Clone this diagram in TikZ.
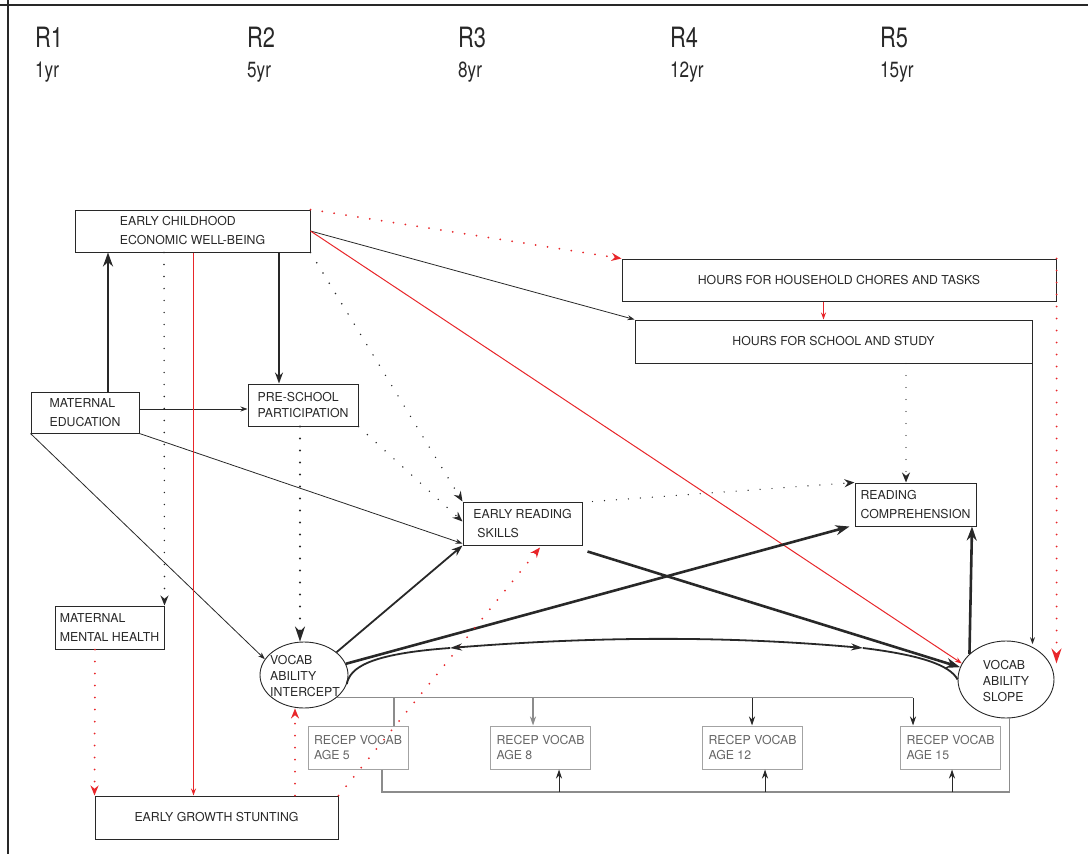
\documentclass[tikz,border=0pt]{standalone}
\usepackage{fontspec}
\setmainfont{TeX Gyre Heros}
\newfontfamily\hdr[FakeStretch=0.78]{TeX Gyre Heros}
\usetikzlibrary{arrows.meta,shapes.geometric}
\definecolor{rd}{RGB}{232,38,42}
\definecolor{ink}{RGB}{40,40,40}
\definecolor{gln}{RGB}{140,140,140}
\begin{document}
\begin{tikzpicture}[x=1pt,y=-1pt,
  box/.style={draw=ink, line width=1.0pt, rectangle, align=left, inner sep=0pt, text=ink,
    font=\fontsize{12.3}{19}\selectfont},
  rbox/.style={draw=gln!80, line width=1.0pt, rectangle, align=left, inner sep=0pt, text=black!60,
    font=\fontsize{12.3}{15.5}\selectfont, minimum width=100pt, minimum height=43pt},
  ell/.style={ellipse, draw=ink, line width=0.9pt, inner sep=0pt},
  etext/.style={align=left, text=ink, inner sep=0pt, font=\fontsize{12.3}{16}\selectfont},
  hd/.style={anchor=base west, text=ink, inner sep=0pt, font=\hdr\fontsize{28}{28}\selectfont},
  yr/.style={anchor=base west, text=ink, inner sep=0pt, font=\hdr\fontsize{22}{22}\selectfont},
  thinarr/.style={draw=ink, line width=0.8pt, -{Stealth[length=7pt,width=5pt]}},
  medarr/.style={draw=ink, line width=1.4pt, -{Stealth[length=11pt,width=8pt]}},
  thickarr/.style={draw=ink, line width=2.6pt, -{Stealth[length=14pt,width=10pt]}},
  redarr/.style={draw=rd, line width=1.0pt, -{Stealth[length=7pt,width=5pt]}},
  bdot/.style={draw=ink, line width=1.6pt, line cap=round, dash pattern=on 0pt off 12pt,
    -{Stealth[length=10pt,width=8pt]}},
  bdotbig/.style={draw=ink, line width=2.4pt, line cap=round, dash pattern=on 0pt off 12pt,
    -{Stealth[length=15pt,width=10pt]}},
  rdot/.style={draw=rd, line width=2.0pt, line cap=round, dash pattern=on 0pt off 12pt,
    -{Stealth[length=10pt,width=8pt]}},
  gl/.style={draw=gln, line width=1.2pt},
  garr/.style={draw=gln, line width=1.2pt, -{Stealth[length=9pt,width=6pt]}},
  barr/.style={draw=ink, line width=1.0pt, -{Stealth[length=9pt,width=6pt]}},
  cov/.style={draw=ink, line width=1.8pt}
]
\useasboundingbox (0,0) rectangle (1088,854);
\draw[line width=2.5pt, ink] (0,5) -- (1088,5);
\draw[line width=2.5pt, ink] (8,0) -- (8,854);

% header
\node[hd] (r1) at (35,47) {R1};
\node[hd] (r2) at (247,47) {R2};
\node[hd] (r3) at (458,47) {R3};
\node[hd] (r4) at (670,47) {R4};
\node[hd] (r5h) at (880,47) {R5};
\node[yr] (y1) at (35,77) {1yr};
\node[yr] (y2) at (247,77) {5yr};
\node[yr] (y3) at (458,77) {8yr};
\node[yr] (y4) at (670,77) {12yr};
\node[yr] (y5) at (880,77) {15yr};

% boxes
\node[box, minimum width=235pt, minimum height=42pt] (ec) at (192.5,231) {EARLY CHILDHOOD\\ECONOMIC WELL-BEING};
\node[box, minimum width=108pt, minimum height=41pt] (me) at (85,412.5) {MATERNAL\\EDUCATION};
\node[box, minimum width=110pt, minimum height=42pt, font=\fontsize{12.3}{16}\selectfont] (ps) at (303,405) {PRE-SCHOOL\\PARTICIPATION};
\node[box, minimum width=109pt, minimum height=43pt] (mmh) at (109.5,627.5) {MATERNAL\\MENTAL HEALTH};
\node[box, minimum width=243pt, minimum height=43pt] (egs) at (216.5,817.5) {EARLY GROWTH STUNTING};
\node[box, minimum width=119pt, minimum height=43pt] (ers) at (522.5,523.5) {EARLY READING\\\hspace*{4pt}SKILLS};
\node[box, minimum width=434pt, minimum height=42pt] (hc) at (839,280) {HOURS FOR HOUSEHOLD CHORES AND TASKS};
\node[box, minimum width=397pt, minimum height=43pt] (ss) at (833.5,341.5) {HOURS FOR SCHOOL AND STUDY};
\node[box, minimum width=121pt, minimum height=43pt] (rc) at (915.5,504.5) {READING\\COMPREHENSION};

\node[ell, minimum width=88pt, minimum height=66pt] (int) at (304,675) {};
\node[etext] (intt) at (305,676) {VOCAB\\ABILITY\\INTERCEPT};
\node[ell, minimum width=96pt, minimum height=77pt] (slope) at (1006,679.5) {};
\node[etext] (slopet) at (1006,681) {VOCAB\\ABILITY\\SLOPE};

\node[rbox] (rv5) at (358,747.5) {RECEP VOCAB\\AGE 5};
\node[rbox] (rv8) at (540.5,747.5) {RECEP VOCAB\\AGE 8};
\node[rbox] (rv12) at (752.5,747.5) {RECEP VOCAB\\AGE 12};
\node[rbox] (rv15) at (950.5,747.5) {RECEP VOCAB\\AGE 15};

% measurement model
\coordinate (t4) at (int.-35 -| 913,0);
\draw[gl] (int.-35) -- (t4);
\draw[gl] (t4 -| 394,0) -- (rv5.north -| 394,0);
\draw[garr] (t4 -| 533,0) -- (rv8.north -| 533,0);
\draw[barr] (t4 -| 752,0) -- (rv12.north -| 752,0);
\draw[barr] (t4) -- (rv15.north -| 913,0);
\coordinate (b0) at (382,792);
\coordinate (b1) at (slope.-85 |- b0);
\draw[gl] (rv5.south -| b0) -- (b0) -- (b1) -- (slope.-85);
\draw[barr] (b0 -| 559,0) -- (rv8.south -| 559,0);
\draw[barr] (b0 -| 765,0) -- (rv12.south -| 765,0);
\draw[barr] (b0 -| 952,0) -- (rv15.south -| 952,0);

% structural paths
\coordinate (mep) at ([yshift=3.5pt]me.east);
\draw[thickarr] (me.north -| 108,0) -- (ec.south -| 108,0);
\draw[medarr] (ec.south -| 279,0) -- (ps.north -| 279,0);
\draw[thinarr] (mep) -- (mep -| ps.west);
\draw[thinarr] (me.south east) -- ([yshift=2pt]ers.south west);
\draw[thinarr] (me.south west) -- (int.158);
\draw[bdot] (ec.south -| 164,0) -- (mmh.north east);
\draw[redarr, line width=1.25pt] (ec.south -| 193.5,0) -- (egs.north -| 193.5,0);
\draw[bdot] (ec.south east) -- (ers.north west);
\draw[bdot] (ps.south east) -- ([yshift=-20pt]ers.north west);
\draw[bdotbig] (ps.south -| 300,0) -- (int.north -| 300,0);
\draw[rdot] (ec.north east) -- (hc.north west);
\draw[thinarr] (ec.east) -- (ss.north west);
\draw[redarr] (ec.east) -- (slope.160);
\draw[redarr, line width=1.25pt] (hc.south -| 823.5,0) -- (ss.north -| 823.5,0);
\draw[rdot, -{Stealth[length=15pt,width=10pt]}] (hc.north east) -- (hc.north east |- slope.20);
\draw[bdot, line width=1.4pt] (ss.south -| 906,0) -- (rc.north -| 906,0);
\draw[thinarr] (ss.south east) -- (ss.south east |- slope.60);
\draw[bdot, line width=1.4pt] ([xshift=10pt]ers.north east) -- (rc.north west);
\draw[medarr, line width=1.8pt] (int.35) -- (ers.south west);
\draw[thickarr] (int.15) -- ([xshift=-5pt]rc.south west);
\draw[thickarr] ([xshift=5pt,yshift=-6pt]ers.south east) -- (slope.165);
\draw[thickarr] (slope.145) -- (rc.south -| 972,0);
\draw[rdot] (mmh.south -| 95,0) -- (egs.north west);
\draw[rdot] (egs.north -| 295,0) -- (int.south -| 295,0);
\draw[rdot] (egs.north east) -- ([yshift=-2pt]ers.south -| 540,0);

% covariance
\coordinate (cA) at (450,648);
\coordinate (cB) at (863,648);
\draw[cov] (int.-12) .. controls (350,668) and (368,654) .. (cA);
\draw[cov, {Stealth[length=12pt,width=7pt]}-{Stealth[length=12pt,width=7pt]}] (cA) .. controls (600,636) and (730,636) .. (cB);
\draw[cov] (cB) .. controls (920,655) and (950,665) .. (slope.west);
\end{tikzpicture}
\end{document}
